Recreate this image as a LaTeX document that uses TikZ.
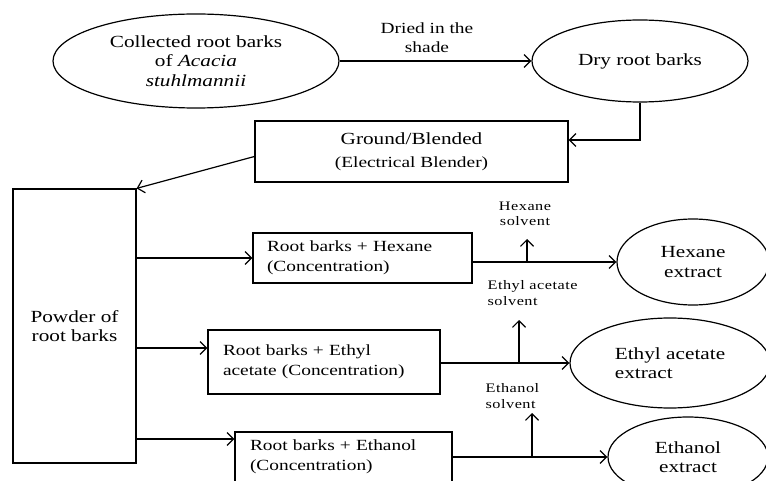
\documentclass[tikz,border=0pt]{standalone}
\usepackage{fontspec}
\setmainfont{Liberation Serif}[FakeStretch=1.25]
\newfontfamily\solventfont{Liberation Serif}[FakeStretch=1.25, LetterSpace=4]
\usetikzlibrary{shapes.geometric, arrows.meta}

\begin{document}
\begin{tikzpicture}[
  x = 1pt, y = -1pt, line width = 1.2pt,
  > = {Straight Barb[length=6.5pt, width=13pt]},
  oval/.style = {draw, ellipse, inner sep = 0pt, align = center,
    font = \fontsize{17}{19.5}\selectfont},
  box/.style = {draw, rectangle, inner ysep = 0pt, align = left,
    font = \fontsize{15.5}{20}\selectfont},
  note/.style = {inner sep = 1pt, align = center,
    font = \fontsize{15.5}{19}\selectfont},
  solvent/.style = {inner sep = 0pt,
    font = \solventfont\fontsize{13}{15.5}\selectfont}
]
\useasboundingbox (0,0) rectangle (766,481);
\clip (0,0) rectangle (766,481);

% collecting and drying
\node[oval, minimum width = 286pt, minimum height = 94pt] (coll) at (196,61)
  {Collected root barks\\of \textit{Acacia}\\\textit{stuhlmannii}};
\node[oval, minimum width = 216pt, minimum height = 82pt] (dry) at (640,61)
  {Dry root barks};
\node[note] (dried) at (427,38) {Dried in the\\shade};
\draw[->] (coll.east) -- (dry.west);

% grinding
\node[draw, rectangle, align = center, minimum width = 313pt,
  minimum height = 61pt, inner sep = 0pt,
  font = \fontsize{17}{22}\selectfont] (ground) at (411.5,151.5)
  {Ground/Blended\\[1pt]{\fontsize{15.5}{19}\selectfont(Electrical Blender)}};
\draw[->] (dry.south) |- ([yshift=11.5pt]ground.east);

\node[draw, rectangle, align = center, minimum width = 123pt,
  minimum height = 274pt, font = \fontsize{17}{19.5}\selectfont] (powder)
  at (74.5,326) {Powder of\\root barks};
\draw[->] ([yshift=-5pt]ground.west) -- (powder.north east);

% extraction boxes
\node[box, text width = 191pt, inner xsep = 14pt, minimum height = 50pt]
  (hexbox) at (362.5,258) {Root barks + Hexane\\(Concentration)};
\node[box, text width = 202pt, inner xsep = 15pt, minimum height = 64pt]
  (ethbox) at (324,362) {Root barks + Ethyl\\acetate (Concentration)};
\node[box, text width = 187pt, inner xsep = 15pt, minimum height = 50pt]
  (etobox) at (343.5,457) {Root barks + Ethanol\\(Concentration)};

\draw[->] (powder.east |- hexbox.west) -- (hexbox.west);
\draw[->] (powder.east |- 0,348) -- (ethbox.west |- 0,348);
\draw[->] (powder.east |- 0,439) -- (etobox.west |- 0,439);

% extracts
\node[oval, minimum width = 152pt, minimum height = 86pt] (hexell)
  at (693,262) {Hexane\\extract};
\node[oval, minimum width = 200pt, minimum height = 90pt, align = left]
  (ethell) at (670,363) {Ethyl acetate\\extract};
\node[oval, minimum width = 160pt, minimum height = 80pt] (etoell)
  at (688,457) {Ethanol\\extract};

\draw[->] (hexbox.east |- hexell.west) -- (hexell.west);
\draw[->] (ethbox.east |- ethell.west) -- (ethell.west);
\draw[->] (etobox.east |- etoell.west) -- (etoell.west);

% solvents taken off
\node[solvent, align = center] (hexlab) at (525,214) {Hexane\\solvent};
\node[solvent, align = left, anchor = west] (ethlab) at (487,293)
  {Ethyl acetate\\solvent};
\node[solvent, align = left, anchor = west] (etolab) at (485,396)
  {Ethanol\\solvent};

\coordinate (hexsol) at (527,262);
\coordinate (hextip) at (527,239);
\coordinate (ethsol) at (519,363);
\coordinate (ethtip) at (519,320);
\coordinate (etosol) at (532,457);
\coordinate (etotip) at (532,413);
\draw[->] (hexsol) -- (hextip);
\draw[->] (ethsol) -- (ethtip);
\draw[->] (etosol) -- (etotip);

\end{tikzpicture}
\end{document}
